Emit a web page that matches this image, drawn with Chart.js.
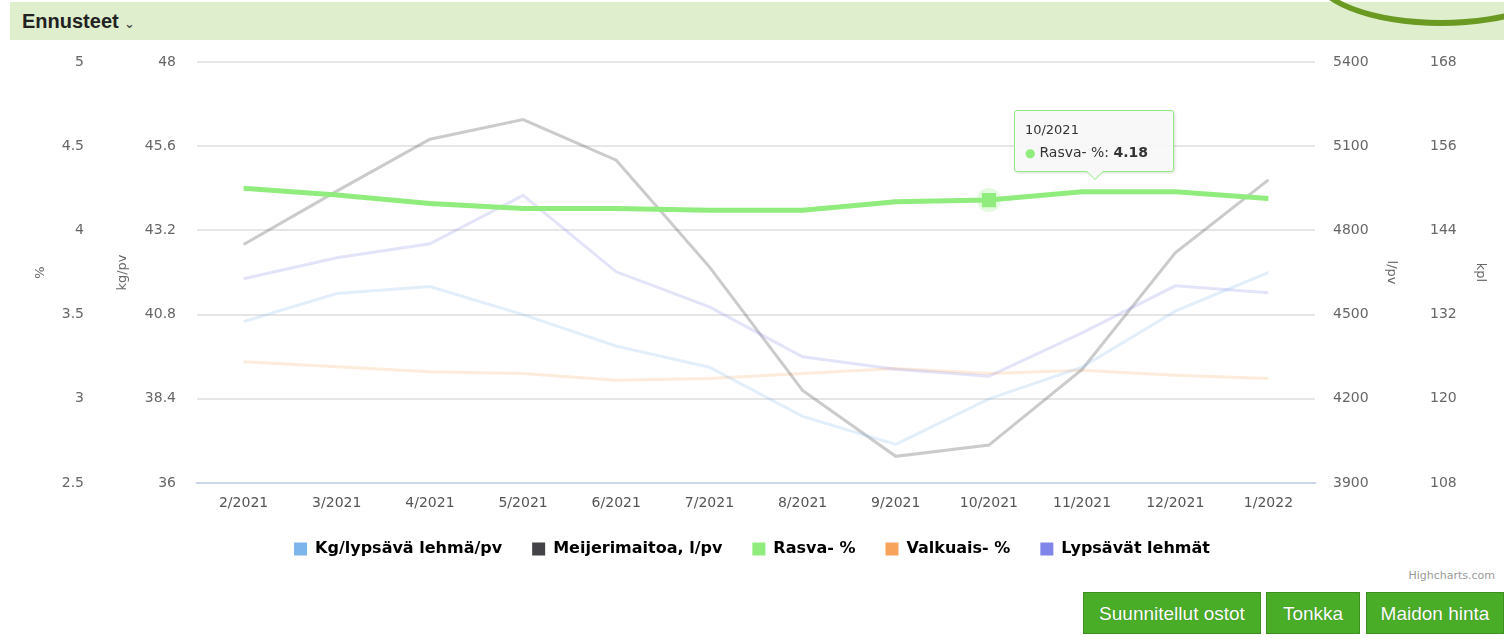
<!DOCTYPE html>
<html lang="fi">
<head>
<meta charset="utf-8">
<title>Ennusteet</title>
<script src="https://cdn.jsdelivr.net/npm/chart.js@4.4.1/dist/chart.umd.min.js"></script>
<style>
  html, body { margin: 0; padding: 0; background: #fff; overflow: hidden; }
  body { width: 1504px; height: 638px; position: relative; font-family: "Liberation Sans", Arial, sans-serif; }
  .header { position: absolute; left: 10px; top: 2px; width: 1494px; height: 38px; background: #dfeecd; }
  .header span { position: absolute; left: 12px; top: 8px; font-weight: bold; font-size: 20px; color: #222; }
  .header small { font-size: 13px; font-weight: normal; color: #333; }
  .arc { position: absolute; left: 1312px; top: -78px; width: 258px; height: 104px; border: 6px solid #6b9a23; border-radius: 50%; box-sizing: border-box; }
  #c { position: absolute; left: 0; top: 40px; }
  .credits { position: absolute; right: 9px; top: 569px; font: 11px "DejaVu Sans", sans-serif; color: #999; }
  .btn { position: absolute; top: 592px; height: 42px; line-height: 42px; background: #4aad27; border: 1px solid #3c8f1f; box-sizing: border-box; color: #fff; font-size: 19px; text-align: center; text-shadow: 0 0 1px rgba(0,0,0,0.3); }
  #tip { position: absolute; width: 160px; height: 62px; box-sizing: border-box; background: rgba(247,247,247,0.92); border: 1px solid #90ed7d; border-radius: 3px; box-shadow: 1px 1px 3px rgba(0,0,0,0.15); font-family: "DejaVu Sans", sans-serif; color: #333; opacity: 0; }
  #tip:before, #tip:after { content: ""; position: absolute; left: 72px; border: 8px solid transparent; border-bottom: 0; }
  #tip:before { bottom: -9px; border-top: 9px solid #90ed7d; left: 71px; border-width: 9px 9px 0 9px; }
  #tip:after { bottom: -8px; border-top: 8px solid #f7f7f7; }
  #tip .t-title { position: absolute; left: 10px; top: 11px; font-size: 13px; }
  #tip .t-row { position: absolute; left: 10px; top: 33px; font-size: 14px; white-space: nowrap; }
  #tip .dot { color: #90ed7d; font-size: 12px; margin-right: 4px; }
  #tip b { font-weight: bold; }
</style>
</head>
<body>
<div class="header"><span>Ennusteet <small>&#8964;</small></span></div>
<div class="arc"></div>
<canvas id="c" width="1504" height="527"></canvas>
<div id="tip"><div class="t-title"></div><div class="t-row"><span class="dot">&#9679;</span><span class="t-name"></span><b class="t-val"></b></div></div>
<div class="credits">Highcharts.com</div>
<div class="btn" style="left:1083px;width:178px;">Suunnitellut ostot</div>
<div class="btn" style="left:1266px;width:94px;">Tonkka</div>
<div class="btn" style="left:1366px;width:138px;">Maidon hinta</div>
<script>
// months on the x axis
const months = ['2/2021', '3/2021', '4/2021', '5/2021', '6/2021', '7/2021',
                '8/2021', '9/2021', '10/2021', '11/2021', '12/2021', '1/2022'];

// series values
const kgPerCow   = [40.6, 41.4, 41.6, 40.8, 39.9, 39.3, 37.9, 37.1, 38.4, 39.3, 40.9, 42.0];
const dairyMilk  = [4750, 4940, 5125, 5195, 5050, 4670, 4230, 3995, 4035, 4305, 4720, 4980];
const fatPct     = [4.25, 4.21, 4.16, 4.13, 4.13, 4.12, 4.12, 4.17, 4.18, 4.23, 4.23, 4.19];
const proteinPct = [3.22, 3.19, 3.16, 3.15, 3.11, 3.12, 3.15, 3.18, 3.15, 3.17, 3.14, 3.12];
const cows       = [137.1, 140.1, 142.1, 149.0, 138.1, 133.1, 126.0, 124.2, 123.2, 129.4, 136.1, 135.1];

// axis tick labels
const pctTicks = [2.5, 3, 3.5, 4, 4.5, 5];
const kgTicks  = [36, 38.4, 40.8, 43.2, 45.6, 48];
const milkTicks = [3900, 4200, 4500, 4800, 5100, 5400];
const cowTicks = [108, 120, 132, 144, 156, 168];

const seriesNames = ['Kg/lypsävä lehmä/pv', 'Meijerimaitoa, l/pv', 'Rasva- %', 'Valkuais- %', 'Lypsävät lehmät'];
const seriesColors = ['#7cb5ec', '#434348', '#90ed7d', '#f7a35c', '#8085e9'];
const fadedColors = ['rgba(124,181,236,0.22)', 'rgba(67,67,72,0.28)', '#90ed7d', 'rgba(247,163,92,0.22)', 'rgba(128,133,233,0.22)'];

const activeIndex = 8; // hovered point: 10/2021

const tickFont = { family: 'DejaVu Sans', size: 14 };
const fmt = v => String(Math.round(v * 100) / 100);

// gap = invisible tick length that pushes the labels away from the plot
function yAxis(pos, ticks, title, width, gap, titlePad, weight, grid) {
  return {
    position: pos,
    weight: weight,
    min: ticks[0],
    max: ticks[ticks.length - 1],
    afterFit: s => { s.width = width; },
    border: { display: false },
    grid: grid
      ? { color: '#e6e6e6', lineWidth: 2, drawTicks: false }
      : { display: false, drawTicks: gap > 0, tickLength: gap },
    ticks: { count: ticks.length, color: '#666', font: tickFont, padding: 6, callback: fmt },
    title: { display: true, text: title, color: '#666', font: { family: 'DejaVu Sans', size: 13 }, padding: { top: titlePad, bottom: 0 } }
  };
}

function externalTooltip(context) {
  const { chart, tooltip } = context;
  const el = document.getElementById('tip');
  if (tooltip.opacity === 0 || !tooltip.dataPoints || !tooltip.dataPoints.length) { el.style.opacity = 0; return; }
  const dp = tooltip.dataPoints[0];
  el.querySelector('.t-title').textContent = dp.label;
  el.querySelector('.t-name').textContent = dp.dataset.label + ': ';
  el.querySelector('.t-val').textContent = dp.formattedValue;
  el.style.left = (chart.canvas.offsetLeft + tooltip.caretX + 25) + 'px';
  el.style.top = (chart.canvas.offsetTop + tooltip.caretY - 90) + 'px';
  el.style.opacity = 1;
}

const markerRadius = months.map((m, i) => i === activeIndex ? 10 : 0);
const haloRadius = months.map((m, i) => i === activeIndex ? 12 : 0);

const chart = new Chart(document.getElementById('c'), {
  type: 'line',
  data: {
    labels: months,
    datasets: [
      { label: seriesNames[0], data: kgPerCow, yAxisID: 'yKg', borderColor: fadedColors[0], backgroundColor: fadedColors[0], borderWidth: 3, pointRadius: 0, order: 3 },
      { label: seriesNames[1], data: dairyMilk, yAxisID: 'yMilk', borderColor: fadedColors[1], backgroundColor: fadedColors[1], borderWidth: 3, pointRadius: 0, order: 4 },
      { label: seriesNames[2], data: fatPct, yAxisID: 'yPct', borderColor: fadedColors[2], backgroundColor: fadedColors[2], borderWidth: 5, pointStyle: 'rect', pointRadius: markerRadius, pointBorderWidth: 0, order: 0 },
      { label: seriesNames[3], data: proteinPct, yAxisID: 'yPct', borderColor: fadedColors[3], backgroundColor: fadedColors[3], borderWidth: 3, pointRadius: 0, order: 5 },
      { label: seriesNames[4], data: cows, yAxisID: 'yCow', borderColor: fadedColors[4], backgroundColor: fadedColors[4], borderWidth: 3, pointRadius: 0, order: 2 },
      { label: 'halo', data: fatPct, yAxisID: 'yPct', showLine: false, pointStyle: 'circle', pointRadius: haloRadius, pointBorderWidth: 0, backgroundColor: 'rgba(144,237,125,0.25)', order: 1 }
    ]
  },
  options: {
    responsive: false,
    animation: false,
    devicePixelRatio: 1,
    events: [],
    layout: { padding: { top: 22, left: 0, right: 0, bottom: 0 } },
    scales: {
      x: {
        offset: true,
        grid: { display: false, drawTicks: false },
        border: { display: true, color: '#ccd6eb', width: 2 },
        afterFit: s => { s.height = 28; },
        ticks: { color: '#555', font: tickFont, padding: 12, maxRotation: 0, autoSkip: false }
      },
      yPct: yAxis('left', pctTicks, '%', 90, 0, 33, 2, true),
      yKg: yAxis('left', kgTicks, 'kg/pv', 107, 15, 25, 1, false),
      yMilk: yAxis('right', milkTicks, 'l/pv', 105, 12, 21, 1, false),
      yCow: yAxis('right', cowTicks, 'kpl', 84, 4, 16, 2, false)
    },
    plugins: {
      legend: {
        position: 'bottom',
        labels: {
          boxWidth: 13, boxHeight: 13, padding: 30, color: '#333',
          font: { family: 'DejaVu Sans', size: 16, weight: 'bold' },
          generateLabels: () => seriesNames.map((name, i) => ({
            text: name, fillStyle: seriesColors[i], strokeStyle: seriesColors[i], lineWidth: 0, datasetIndex: i, hidden: false
          }))
        }
      },
      tooltip: { enabled: false, external: externalTooltip }
    }
  }
});

chart.tooltip.setActiveElements([{ datasetIndex: 2, index: activeIndex }], { x: 0, y: 0 });
chart.update();
</script>
</body>
</html>
